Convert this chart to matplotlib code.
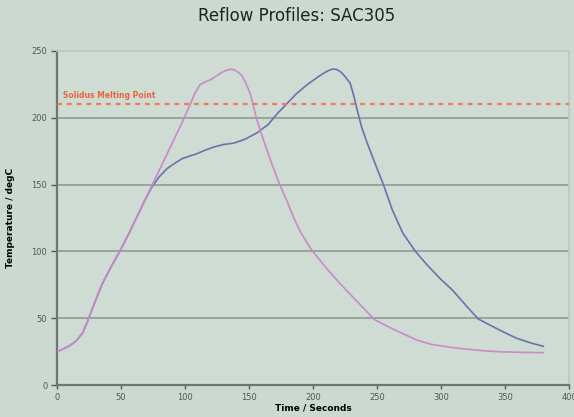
import matplotlib
matplotlib.use('Agg')
import matplotlib.pyplot as plt

# 데이터
t_profile1 = [0, 5, 10, 15, 20, 24, 30, 35, 42, 49, 56, 62, 68, 74, 80, 86, 92, 98, 104, 108, 112,
              116, 120, 124, 128, 132, 135, 138, 141, 144, 147, 151, 156, 160, 164, 168, 174, 180,
              185, 190, 195, 199, 210, 221, 235, 248, 258, 270, 281, 292, 304, 318, 333, 346, 360, 380]
temp_profile1 = [25, 27, 29.5, 33, 39, 48, 63, 75, 88, 100, 113, 125, 137, 149, 161, 173, 185, 197, 210, 219, 225,
                 227, 228.5, 231, 233.5, 235.5, 236.3, 236, 234.5, 232, 227, 218, 199, 187, 176, 165, 150, 137,
                 125, 115, 107, 101, 88, 76, 62, 49, 44, 38.5, 33.7, 30.5, 28.7, 27, 25.7, 24.9, 24.5, 24.2]

t_profile2 = [0, 5, 10, 15, 20, 24, 30, 35, 42, 49, 56, 62, 68, 74, 80, 86, 92, 98, 104, 109, 115,
              122, 130, 138, 147, 156, 165, 172, 180, 187, 195, 203, 209, 213, 216, 219, 222, 225,
              229, 232, 235, 238, 242, 248, 255, 262, 270, 275, 280, 290, 300, 309, 320, 329, 337,
              346, 359, 370, 380]
temp_profile2 = [25, 27, 29.5, 33, 39, 48, 63, 75, 88, 100, 113, 125, 137, 148, 156, 162, 166, 169.5, 171.5, 173, 175.5,
                 178, 180, 181, 184, 188.6, 195, 203, 211, 218, 224.5, 230, 233.8, 235.8, 236.5, 236, 234, 231,
                 226, 216, 204, 193, 182, 167, 150, 131, 114, 107, 100, 89, 79, 71, 59, 49.5, 45.5,
                 41, 35, 31.5, 29]

solidus = 210
x_ticks = [0, 50, 100, 150, 200, 250, 300, 350, 400]
y_ticks = [0, 50, 100, 150, 200, 250]

bg = '#cbd9d0'
plot_bg = '#cfdcd3'
grid_col = '#8f9a93'

fig = plt.figure(figsize=(5.74, 4.17), dpi=100, facecolor=bg)
ax = fig.add_axes([0.0993, 0.0767, 0.892, 0.801], facecolor=plot_bg)

# 그리드
for y in y_ticks[1:-1]:
    ax.axhline(y, color=grid_col, linewidth=1.2, zorder=1)

# 곡선
ax.plot(t_profile2, temp_profile2, color='#6f6fae', linewidth=1.2, zorder=3)
ax.plot(t_profile1, temp_profile1, color='#c98ac6', linewidth=1.2, zorder=3)

# 고상선
ax.axhline(solidus, color='#ef7a55', linestyle=(0, (2.2, 2.2)), linewidth=1.6, zorder=4)
ax.text(5, solidus + 3, 'Solidus Melting Point', color='#e8643c', fontsize=5.5,
        fontweight='bold', ha='left', va='bottom')

ax.set_xlim(0, 400)
ax.set_ylim(0, 250)
ax.set_xticks(x_ticks)
ax.set_yticks(y_ticks)
ax.tick_params(axis='both', labelsize=6, colors='#555555', length=3, width=1,
               direction='out', pad=3)
ax.tick_params(axis='y', length=4)

for side in ['left', 'bottom']:
    ax.spines[side].set_color('#6e766f')
    ax.spines[side].set_linewidth(1.6)
for side in ['top', 'right']:
    ax.spines[side].set_color('#bcc8c0')
    ax.spines[side].set_linewidth(1.2)

ax.set_xlabel('Time / Seconds', fontsize=6.5, fontweight='bold', labelpad=1)
ax.set_ylabel('Temperature / degC', fontsize=6.5, fontweight='bold', labelpad=12)

fig.text(0.517, 0.962, 'Reflow Profiles: SAC305', ha='center', va='center',
         fontsize=12, color='#222222', family=['Liberation Sans Narrow', 'DejaVu Sans'])

fig.savefig('out.png', dpi=100, facecolor=bg)
